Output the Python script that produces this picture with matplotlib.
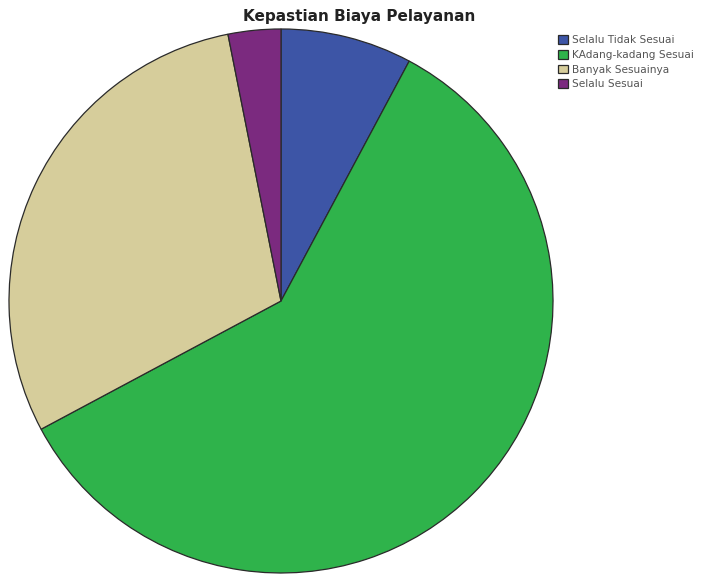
import matplotlib.pyplot as plt

labels = ['Selalu Tidak Sesuai', 'KAdang-kadang Sesuai', 'Banyak Sesuainya', 'Selalu Sesuai']
counts = [5, 38, 19, 2]
colors = ['#3d55a6', '#2fb34b', '#d6cd9b', '#7b2a7f']

fig = plt.figure(figsize=(7.08, 5.75), dpi=100)
ax = fig.add_axes([0.0127, 0.0035, 0.7684, 0.9461])

wedges, _ = ax.pie(counts, colors=colors, startangle=90, counterclock=False,
                   radius=1.0, wedgeprops=dict(edgecolor='#2a2a2a', linewidth=0.9))
ax.set_xlim(-1.0, 1.0)
ax.set_ylim(-1.0, 1.0)
ax.set_aspect('equal')
ax.axis('off')

fig.text(0.508, 0.972, 'Kepastian Biaya Pelayanan', ha='center', va='center',
         fontsize=11, fontweight='bold', color='#222222')

fig.legend(wedges, labels, loc='upper left', bbox_to_anchor=(0.778, 0.952),
           frameon=False, fontsize=7.6, handlelength=0.9, handleheight=0.9,
           handletextpad=0.4, labelspacing=0.45, borderpad=0.2, labelcolor='#555555')

fig.savefig('out.png', dpi=100)
